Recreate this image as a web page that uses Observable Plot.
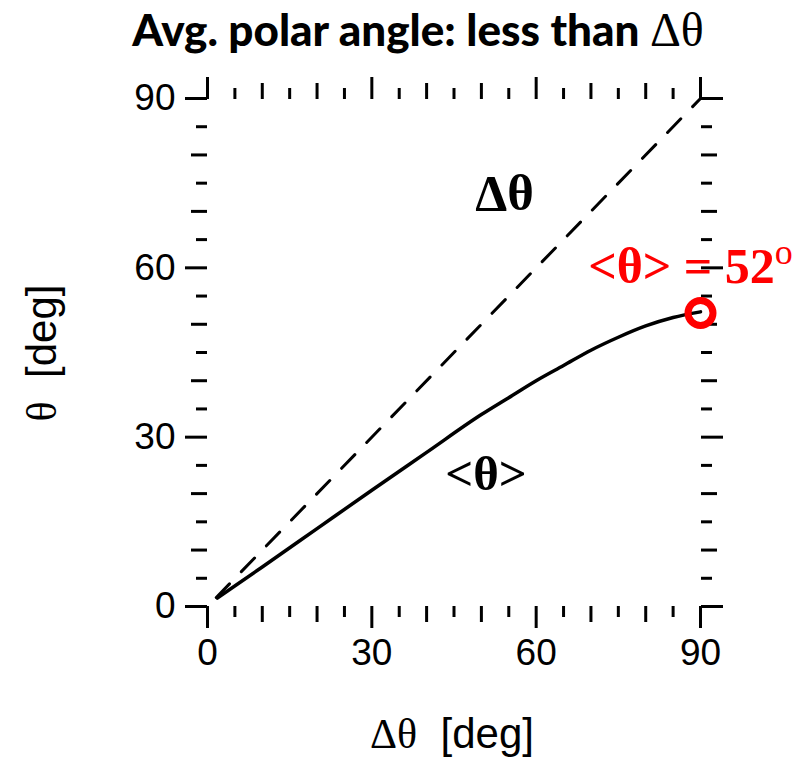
<!DOCTYPE html>
<html><head><meta charset="utf-8">
<script src="https://cdn.jsdelivr.net/npm/d3@7"></script>
<script src="https://cdn.jsdelivr.net/npm/@observablehq/plot@0.6"></script>
<style>
body{margin:0;background:#fff;}
</style></head><body><div id="chart"></div>
<script>
// Data
const dTheta   = [1.8, 10, 20, 30, 40, 50, 55, 60, 65, 70, 75, 80, 85, 90];
const avgTheta = [1.5, 7.0, 13.8, 20.6, 27.3, 34.0, 37.0, 40.0, 42.7, 45.4, 47.7, 49.7, 51.2, 52.2];
const diagX = [1.6, 90];
const diagY = [1.6, 90];
const majorTicks = [0, 30, 60, 90];
const midTicks = [10, 20, 40, 50, 70, 80];
const minorTicks = [5, 15, 25, 35, 45, 55, 65, 75, 85];
const endX = [90];
const endY = [52];
const endLabel = "<θ> = 52";
const titleText = "Avg. polar angle: less than ";

const serif = "'Liberation Serif', 'Times New Roman', serif";
const sans = "'Liberation Sans', Arial, sans-serif";

const tickStroke = 3;
function axes(anchor, labels) {
  const ax = anchor === "bottom" || anchor === "top" ? Plot.axisX : Plot.axisY;
  return [
    ax({ticks: majorTicks, anchor, tickSize: 22, strokeWidth: tickStroke, label: null,
        tickPadding: 10, fontSize: 37, fontFamily: sans,
        tickFormat: labels ? d => String(d) : () => ""}),
    ax({ticks: midTicks, anchor, tickSize: 16, strokeWidth: tickStroke, label: null, tickFormat: () => ""}),
    ax({ticks: minorTicks, anchor, tickSize: 11, strokeWidth: tickStroke, label: null, tickFormat: () => ""})
  ];
}

const plot = Plot.plot({
  width: 808, height: 758,
  marginTop: 98, marginLeft: 207, marginRight: 108, marginBottom: 152,
  x: {domain: [0, 90]},
  y: {domain: [0, 90]},
  style: {fontFamily: sans, fontSize: "36px", background: "white", color: "black"},
  marks: [
    ...axes("bottom", true),
    ...axes("left", true),
    ...axes("top", false),
    ...axes("right", false),
    Plot.line(diagX, {x: diagX, y: diagY, stroke: "black", strokeWidth: 3, strokeDasharray: "19,17"}),
    Plot.line(dTheta, {x: dTheta, y: avgTheta, stroke: "black", strokeWidth: 3.5, curve: "monotone-x"}),
    Plot.dot(endX, {x: endX, y: endY, r: 12.5, stroke: "red", strokeWidth: 7, fill: "none"}),
    Plot.text(["Δθ"], {x: [48.9], y: [70.2], text: d => d, textAnchor: "start", lineAnchor: "bottom",
                       fontSize: 51, fontWeight: "bold", fontFamily: serif, fill: "black"}),
    Plot.text(["<θ>"], {x: [43.4], y: [20.6], text: d => d, textAnchor: "start", lineAnchor: "bottom",
                       fontSize: 49, fontWeight: "bold", fontFamily: serif, fill: "black"})
  ]
});
document.getElementById("chart").appendChild(plot);

const svg = d3.select(plot);
const sx = plot.scale("x"), sy = plot.scale("y");

// red label with raised "o"
const rl = svg.append("text")
  .attr("x", sx.apply(69.6)).attr("y", sy.apply(57.2)).attr("text-anchor", "start")
  .attr("fill", "red").attr("font-family", serif).attr("font-weight", "bold").attr("font-size", 50);
rl.append("tspan").text(endLabel);
rl.append("tspan").attr("font-size", 36).attr("dy", -19).attr("font-weight", "normal").text("o");

// title
const t = svg.append("text")
  .attr("x", 418).attr("y", 46).attr("text-anchor", "middle")
  .attr("font-family", "Lato, 'Open Sans', sans-serif").attr("font-weight", "900").attr("font-size", 44)
  .attr("fill", "black");
t.append("tspan").text(titleText);
t.append("tspan").attr("font-family", serif).attr("font-weight", "normal").attr("font-size", 48).text("Δθ");

// x label
const xl = svg.append("text")
  .attr("x", 452).attr("y", 748).attr("text-anchor", "middle")
  .attr("font-family", sans).attr("font-size", 42).attr("fill", "black");
xl.append("tspan").attr("font-family", serif).text("Δθ");
xl.append("tspan").text("\u00a0\u00a0[deg]");

// y label
const yl = svg.append("text")
  .attr("transform", "translate(56,353) rotate(-90)").attr("text-anchor", "middle")
  .attr("font-family", sans).attr("font-size", 42).attr("fill", "black");
yl.append("tspan").attr("font-family", serif).text("θ");
yl.append("tspan").text("\u00a0\u00a0[deg]");
</script></body></html>
